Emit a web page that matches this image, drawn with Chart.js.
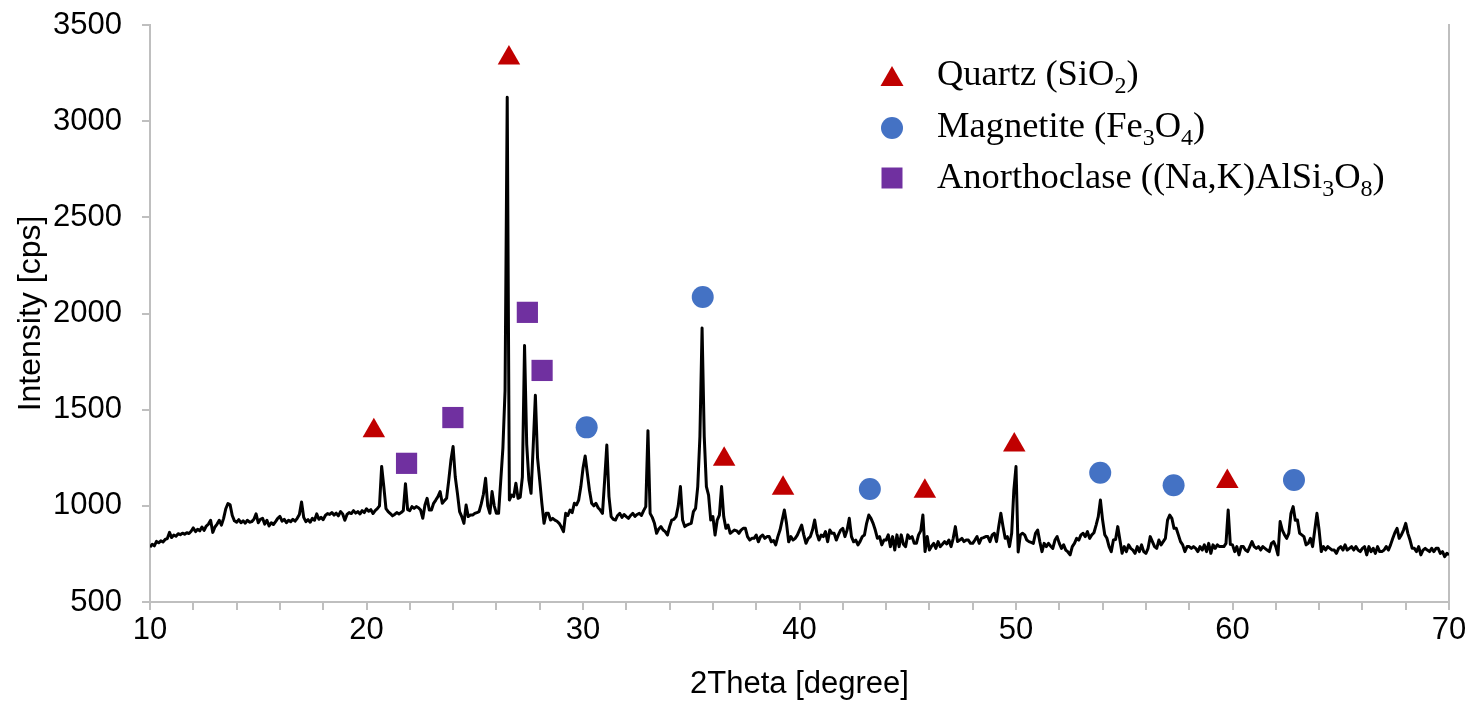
<!DOCTYPE html>
<html>
<head>
<meta charset="utf-8">
<script src="https://cdn.jsdelivr.net/npm/chart.js@4.4.1/dist/chart.umd.min.js"></script>
<style>
  html, body { margin: 0; padding: 0; background: #ffffff; }
  #wrap { position: relative; width: 1472px; height: 703px; }
  canvas { display: block; }
</style>
</head>
<body>
<div id="wrap"><canvas id="c" width="1472" height="703"></canvas></div>
<script>
// ---- Data ----
const twoThetaStart = 10;   // first measured angle [degree]
const twoThetaStep = 0.1;   // measurement step [degree]
const intensity = [
  785, 800, 792, 815, 808, 818, 812, 825, 830, 862,
  835, 848, 842, 855, 850, 858, 852, 860, 856, 868,
  885, 866, 878, 870, 890, 872, 895, 905, 925, 862,
  890, 905, 925, 900, 935, 985, 1012, 1005, 950, 922,
  915, 928, 912, 922, 910, 925, 915, 918, 930, 958,
  912, 930, 935, 905, 925, 895, 912, 903, 918, 935,
  945, 920, 930, 912, 925, 918, 930, 920, 935, 955,
  1020, 940, 918, 928, 915, 935, 925, 958, 930, 940,
  928, 950, 960, 955, 965, 952, 962, 948, 970, 958,
  925, 955, 965, 960, 975, 962, 970, 958, 975, 965,
  985, 972, 980, 960, 975, 985, 1000, 1205, 1100, 985,
  970, 960, 948, 955, 965, 958, 965, 975, 1115, 980,
  975, 996, 987, 996, 990, 978, 935, 1004, 1039, 978,
  978, 1013, 1030, 1048, 1074, 1013, 1027, 1039, 1134, 1238,
  1308, 1150, 1065, 970, 944, 909, 1004, 944, 952, 952,
  961, 965, 970, 1010, 1060, 1143, 1000, 961, 1074, 1000,
  961, 961, 1130, 1300, 1600, 3124, 1030, 1056, 1048, 1117,
  1039, 1045, 1150, 1833, 1320, 1134, 1065, 1310, 1575, 1250,
  1134, 1013, 909, 961, 961, 926, 935, 926, 920, 909,
  890, 866, 961, 950, 978, 965, 1013, 1005, 1030, 1100,
  1195, 1259, 1169, 1080, 1013, 1000, 1013, 990, 978, 961,
  1134, 1316, 1048, 944, 930, 926, 950, 961, 940, 955,
  944, 935, 950, 961, 945, 955, 961, 950, 975, 996,
  1391, 961, 940, 909, 857, 880, 892, 874, 866, 848,
  892, 926, 930, 944, 1000, 1100, 926, 892, 900, 905,
  909, 970, 987, 1100, 1360, 1925, 1360, 1100, 1056, 926,
  944, 848, 926, 952, 1100, 944, 883, 900, 857, 866,
  874, 870, 857, 874, 883, 883, 840, 822, 831, 831,
  848, 813, 840, 848, 831, 840, 840, 813, 820, 797,
  840, 874, 926, 978, 909, 813, 840, 822, 831, 848,
  874, 900, 848, 805, 830, 840, 874, 926, 857, 822,
  848, 840, 866, 813, 874, 857, 857, 822, 850, 874,
  883, 840, 874, 935, 840, 813, 822, 797, 815, 840,
  848, 909, 952, 935, 909, 874, 831, 840, 797, 822,
  822, 849, 788, 840, 770, 849, 788, 849, 800, 788,
  849, 831, 840, 805, 805, 849, 870, 952, 762, 840,
  770, 790, 805, 779, 814, 788, 800, 814, 802, 822,
  788, 831, 892, 814, 822, 831, 814, 822, 822, 805,
  805, 822, 840, 805, 831, 835, 840, 840, 814, 849,
  857, 814, 892, 961, 892, 831, 840, 788, 857, 1080,
  1204, 760, 849, 857, 849, 822, 814, 810, 805, 857,
  874, 814, 762, 805, 788, 805, 790, 779, 822, 840,
  805, 779, 797, 770, 760, 745, 788, 805, 831, 822,
  849, 857, 840, 866, 831, 849, 860, 900, 944, 1030,
  926, 850, 831, 788, 762, 822, 825, 892, 822, 753,
  788, 762, 797, 779, 770, 753, 788, 762, 797, 762,
  753, 779, 840, 814, 788, 779, 822, 797, 814, 831,
  926, 952, 935, 883, 883, 849, 814, 797, 762, 788,
  788, 779, 788, 779, 762, 788, 770, 797, 762, 805,
  753, 797, 779, 797, 788, 788, 788, 805, 978, 800,
  797, 762, 788, 745, 788, 788, 770, 762, 788, 814,
  788, 779, 788, 770, 788, 779, 770, 762, 805, 814,
  788, 745, 918, 874, 850, 831, 857, 960, 996, 925,
  926, 857, 849, 840, 797, 805, 831, 788, 874, 961,
  874, 762, 788, 770, 788, 779, 770, 770, 753, 779,
  788, 770, 797, 770, 779, 788, 770, 788, 770, 762,
  779, 788, 745, 788, 762, 779, 753, 788, 762, 762,
  770, 788, 770, 797, 830, 860, 883, 831, 849, 874,
  909, 857, 822, 779, 779, 762, 788, 745, 770, 779,
  770, 762, 779, 762, 779, 779, 753, 762, 736, 753,
  745
];

// Phase markers (2Theta, marker height)
const quartzTheta = [20.34, 26.58, 36.52, 39.24, 45.79, 49.92, 59.76];
const quartzLevel = [1390, 3328, 1242, 1092, 1076, 1316, 1126];
const magnetiteTheta = [30.17, 35.53, 43.25, 53.89, 57.28, 62.84];
const magnetiteLevel = [1408, 2086, 1088, 1172, 1107, 1134];
const anorthoclaseTheta = [21.85, 23.99, 27.43, 28.11];
const anorthoclaseLevel = [1221, 1459, 2006, 1704];

// Legend labels: [text, isSubscript]
const quartzLabel = [['Quartz (SiO', false], ['2', true], [')', false]];
const magnetiteLabel = [['Magnetite (Fe', false], ['3', true], ['O', false], ['4', true], [')', false]];
const anorthoclaseLabel = [['Anorthoclase ((Na,K)AlSi', false], ['3', true], ['O', false], ['8', true], [')', false]];

// Axis settings
const xMin = 10, xMax = 70, xMinorStep = 2, xMajorStep = 10;
const yMin = 500, yMax = 3500, yStep = 500;
const xTitle = '2Theta [degree]';
const yTitle = 'Intensity [cps]';

// ---- Build library structures ----
const patternPoints = intensity.map((v, i) => ({ x: +(twoThetaStart + i * twoThetaStep).toFixed(1), y: v }));
const toPoints = (xs, ys) => xs.map((x, i) => ({ x: x, y: ys[i] }));

const SANS = "'Liberation Sans', Arial, sans-serif";
const SERIF = "'Liberation Serif', 'Times New Roman', serif";
const AXIS_GRAY = '#BFBFBF';
const FS = 31;

Chart.defaults.color = '#000000';
Chart.defaults.font.family = SANS;

const phaseDefs = [
  { label: quartzLabel, style: 'triangle', color: '#C00000' },
  { label: magnetiteLabel, style: 'circle', color: '#4472C4' },
  { label: anorthoclaseLabel, style: 'rect', color: '#7030A0' }
];

const legendPlugin = {
  id: 'phaseLegend',
  afterDraw(chart) {
    const ctx = chart.ctx;
    const markerX = 892;
    const markerY = [76, 128, 178];
    const baseY = [85, 137, 188];
    const textX = 937;
    const fs = 36.5;
    ctx.save();
    phaseDefs.forEach((p, i) => {
      const cy = markerY[i];
      ctx.fillStyle = p.color;
      ctx.beginPath();
      if (p.style === 'triangle') {
        const s = 23;
        const h = s * Math.sqrt(3) / 2;
        ctx.moveTo(markerX, cy - h / 2);
        ctx.lineTo(markerX + s / 2, cy + h / 2);
        ctx.lineTo(markerX - s / 2, cy + h / 2);
        ctx.closePath();
      } else if (p.style === 'circle') {
        ctx.arc(markerX, cy, 11, 0, Math.PI * 2);
      } else {
        ctx.rect(markerX - 10.5, cy - 10.5, 21, 21);
      }
      ctx.fill();
      // text with subscripts
      let x = textX;
      ctx.fillStyle = '#000000';
      ctx.textBaseline = 'alphabetic';
      ctx.textAlign = 'left';
      p.label.forEach(([t, sub]) => {
        const size = sub ? Math.round(fs * 0.66) : fs;
        ctx.font = size + 'px ' + SERIF;
        ctx.fillText(t, x, baseY[i] + (sub ? Math.round(fs * 0.22) : 0));
        x += ctx.measureText(t).width;
      });
    });
    ctx.restore();
  }
};

const noVerticalPadding = s => { s.paddingTop = 0; s.paddingBottom = 0; };

new Chart(document.getElementById('c'), {
  type: 'scatter',
  data: {
    datasets: [
      {
        label: 'XRD pattern',
        data: patternPoints,
        showLine: true,
        borderColor: '#000000',
        borderWidth: 3,
        pointRadius: 0,
        tension: 0,
        borderJoinStyle: 'round',
        order: 2
      },
      {
        label: 'Quartz (SiO2)',
        data: toPoints(quartzTheta, quartzLevel),
        pointStyle: 'triangle',
        pointRadius: 13,
        backgroundColor: '#C00000',
        borderColor: '#C00000',
        borderWidth: 0,
        order: 1
      },
      {
        label: 'Magnetite (Fe3O4)',
        data: toPoints(magnetiteTheta, magnetiteLevel),
        pointStyle: 'circle',
        pointRadius: 11,
        backgroundColor: '#4472C4',
        borderColor: '#4472C4',
        borderWidth: 0,
        order: 1
      },
      {
        label: 'Anorthoclase ((Na,K)AlSi3O8)',
        data: toPoints(anorthoclaseTheta, anorthoclaseLevel),
        pointStyle: 'rect',
        pointRadius: 15,
        backgroundColor: '#7030A0',
        borderColor: '#7030A0',
        borderWidth: 0,
        order: 1
      }
    ]
  },
  options: {
    responsive: false,
    animation: false,
    events: [],
    devicePixelRatio: 1,
    layout: { padding: { left: 0, right: 0, top: 25, bottom: 0 } },
    plugins: {
      legend: { display: false },
      tooltip: { enabled: false }
    },
    scales: {
      x: {
        type: 'linear',
        position: 'bottom',
        min: xMin,
        max: xMax,
        ticks: {
          stepSize: xMinorStep,
          autoSkip: false,
          maxRotation: 0,
          padding: 2,
          font: { size: FS },
          color: '#000000',
          callback: v => (v % xMajorStep === 0 ? String(v) : '')
        },
        grid: { drawOnChartArea: false, drawTicks: true, tickLength: 8, color: AXIS_GRAY, lineWidth: 2 },
        border: { display: true, color: AXIS_GRAY, width: 2 },
        title: { display: true, text: xTitle, font: { size: FS }, color: '#000000', padding: { top: 0, bottom: 0 } },
        afterFit: s => { s.height = 101; }
      },
      y: {
        type: 'linear',
        position: 'left',
        min: yMin,
        max: yMax,
        ticks: {
          stepSize: yStep,
          padding: 20,
          font: { size: FS },
          color: '#000000',
          callback: v => String(v)
        },
        grid: { drawOnChartArea: false, drawTicks: true, tickLength: 8, color: AXIS_GRAY, lineWidth: 2 },
        border: { display: true, color: AXIS_GRAY, width: 2 },
        title: { display: true, text: yTitle, font: { size: 32 }, color: '#000000', padding: { top: 12, bottom: 0 } },
        afterFit: s => { s.width = 150; noVerticalPadding(s); }
      },
      yRight: {
        type: 'linear',
        position: 'right',
        min: yMin,
        max: yMax,
        ticks: { display: false },
        grid: { drawOnChartArea: false, drawTicks: false },
        border: { display: true, color: AXIS_GRAY, width: 2 },
        afterFit: s => { s.width = 23; noVerticalPadding(s); }
      }
    }
  },
  plugins: [legendPlugin]
});
</script>
</body>
</html>
